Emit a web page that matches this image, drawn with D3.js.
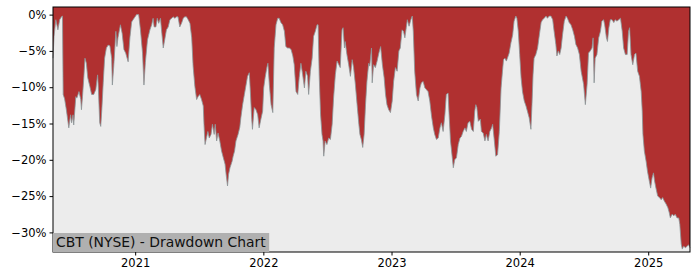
<!DOCTYPE html>
<html>
<head>
  <meta charset="utf-8">
  <title>CBT Drawdown</title>
  <script src="https://cdn.jsdelivr.net/npm/d3@7"></script>
  <style>
    body { margin: 0; background: #fff; }
    svg { font-family: "DejaVu Sans", sans-serif; }
  </style>
</head>
<body>
  <svg width="700" height="280" id="chart"></svg>
  <script>
    // series, day offsets counted from the first trading day
    const title = 'CBT (NYSE) - Drawdown Chart';
    const startDate = '2020-05-12';
    const dayOffsets = [
      0, 3, 8, 14, 19, 24, 27, 29, 33, 38, 45, 50, 53, 57, 59, 65, 68, 74, 79, 81, 84, 88, 91, 95, 99,
      105, 110, 116, 122, 127, 129, 133, 136, 139, 143, 147, 152, 157, 162, 167, 169, 173, 179, 182, 185,
      192, 197, 202, 207, 214, 219, 224, 228, 238, 244, 249, 255, 259, 263, 269, 276, 281, 285, 288, 293,
      297, 301, 306, 310, 314, 318, 323, 328, 333, 338, 342, 347, 352, 356, 361, 366, 371, 375, 380, 385,
      390, 395, 399, 404, 409, 413, 418, 423, 428, 430, 433, 437, 441, 445, 450, 454, 459, 462, 466, 470,
      475, 480, 485, 490, 493, 497, 500, 504, 510, 513, 517, 521, 527, 532, 535, 540, 545, 549, 554, 559,
      562, 566, 568, 573, 578, 583, 587, 592, 597, 600, 604, 609, 612, 616, 621, 626, 630, 635, 640, 644,
      649, 654, 659, 663, 668, 673, 678, 683, 687, 692, 697, 701, 706, 711, 716, 720, 725, 728, 733, 738,
      742, 747, 752, 755, 758, 762, 766, 769, 771, 775, 780, 785, 790, 795, 799, 804, 809, 814, 818, 823,
      826, 830, 832, 837, 842, 847, 852, 856, 861, 866, 871, 874, 878, 882, 886, 890, 894, 899, 902, 907,
      909, 913, 918, 923, 928, 933, 938, 943, 947, 951, 956, 961, 966, 970, 975, 980, 985, 989, 994, 998,
      1002, 1006, 1009, 1014, 1019, 1023, 1026, 1030, 1035, 1040, 1045, 1049, 1054, 1059, 1063, 1068, 1073,
      1078, 1083, 1087, 1092, 1097, 1102, 1106, 1111, 1116, 1120, 1125, 1128, 1132, 1137, 1140, 1144, 1149,
      1154, 1159, 1163, 1168, 1173, 1177, 1182, 1187, 1192, 1197, 1201, 1204, 1207, 1211, 1217, 1220, 1225,
      1230, 1234, 1239, 1244, 1249, 1252, 1256, 1261, 1266, 1271, 1276, 1280, 1283, 1287, 1291, 1294, 1299,
      1304, 1309, 1313, 1318, 1321, 1325, 1329, 1333, 1337, 1342, 1347, 1351, 1356, 1361, 1364, 1367, 1370,
      1375, 1380, 1385, 1390, 1394, 1399, 1404, 1408, 1413, 1418, 1423, 1427, 1432, 1435, 1439, 1443, 1447,
      1451, 1456, 1461, 1465, 1470, 1475, 1480, 1485, 1489, 1494, 1499, 1504, 1511, 1516, 1521, 1525, 1530,
      1535, 1538, 1541, 1544, 1549, 1554, 1559, 1563, 1568, 1571, 1576, 1579, 1583, 1587, 1592, 1597, 1601,
      1606, 1611, 1616, 1621, 1625, 1630, 1635, 1639, 1642, 1646, 1651, 1656, 1660, 1665, 1670, 1675, 1678,
      1680, 1684, 1689, 1693, 1698, 1702, 1706, 1710, 1713, 1717, 1722, 1727, 1732, 1736, 1741, 1746, 1751,
      1755, 1758, 1763, 1768, 1772, 1777, 1782, 1785, 1789, 1792, 1796, 1801, 1806, 1810, 1814
    ];
    const drawdown = [
      -6.0, -3.0, -0.7, -2.1, -0.7, -0.3, -0.2, -11.0, -11.6, -13.1, -15.6, -13.8, -14.9, -13.8, -15.2, -11.3, -11.5, -10.6, -11.7, -13.1, -11.3, -8.5, -6.0, -6.7, -8.7,
      -9.9, -11.0, -11.0, -10.3, -8.3, -9.9, -14.9, -15.4, -13.1, -9.4, -6.0, -4.6, -4.2, -4.3, -6.0, -9.7, -7.1, -2.3, -4.4, -3.2,
      -1.4, -2.6, -4.8, -5.3, -6.5, -3.2, -1.0, -0.7, 0, 0, -2.1, -5.3, -9.7, -6.6, -3.5, -2.1, -1.4, -0.5, -1.7, -1.7,
      -0.5, -1.2, -0.5, -2.6, -4.6, -3.5, -2.1, -1.7, -0.7, -0.5, -0.3, -0.5, -0.3, -0.3, -1.7, -1.2, -0.5, -0.3, -0.3, -0.7,
      -1.2, -3.2, -7.1, -9.9, -11.7, -11.3, -11.0, -11.7, -12.6, -15.1, -17.9, -17.0, -16.1, -17.0, -16.5, -15.1, -16.5, -15.1, -17.4, -16.3,
      -17.4, -18.8, -19.7, -20.6, -22.0, -23.6, -22.0, -21.1, -20.2, -19.5, -18.8, -17.4, -16.5, -15.5, -14.2, -12.4, -11.0, -9.9, -8.5, -8.0,
      -10.6, -14.5, -15.8, -12.8, -13.1, -13.8, -15.6, -14.4, -13.3, -10.1, -8.7, -7.3, -6.7, -9.6, -12.4, -13.5, -4.6, -1.4, -0.5, -0.5,
      -1.1, -1.4, -2.3, -4.4, -4.6, -4.6, -4.8, -5.7, -6.9, -10.6, -11.0, -8.7, -6.7, -8.3, -10.1, -7.8, -8.5, -11.0, -7.8, -6.0,
      -3.0, -2.3, -1.4, -1.4, -8.3, -13.8, -16.5, -17.4, -19.5, -17.4, -17.9, -17.0, -17.2, -15.1, -11.5, -8.3, -6.4, -6.9, -7.3, -2.1,
      -1.8, -4.6, -3.7, -5.5, -6.9, -8.5, -6.2, -7.3, -9.6, -12.4, -15.1, -16.5, -17.2, -18.3, -16.5, -12.4, -9.2, -6.7, -7.1, -4.6,
      -9.4, -6.9, -7.3, -6.4, -5.3, -4.4, -6.9, -8.7, -11.0, -12.4, -13.1, -13.5, -11.9, -9.2, -7.3, -7.8, -5.0, -4.6, -2.1, -2.3,
      -3.2, -1.8, -0.7, -1.6, -0.7, -0.2, -2.3, -7.8, -11.0, -11.9, -10.1, -9.4, -9.2, -10.1, -10.3, -10.6, -11.9,
      -14.0, -15.6, -16.5, -17.2, -17.0, -15.6, -14.9, -16.1, -13.8, -11.0, -10.8, -13.8, -17.4, -19.7, -21.1, -20.0, -19.7,
      -17.9, -17.0, -16.8, -16.1, -15.6, -16.1, -14.9, -14.7, -15.8, -16.1, -13.3, -12.4, -12.8, -14.7, -14.4, -16.1, -16.3,
      -17.4, -16.5, -17.4, -16.1, -15.6, -15.1, -17.0, -19.5, -19.3, -16.1, -10.1, -7.8, -6.2, -6.0, -6.4, -6.0, -5.3,
      -3.9, -2.8, -0.9, -0.2, -0.5, -2.3, -5.5, -8.7, -10.6, -11.9, -12.6, -13.3, -14.2, -15.8, -12.4, -8.3, -6.0,
      -5.5, -4.6, -2.8, -1.1, -0.7, -0.5, -0.2, -0.5, -0.2, -0.2, -0.7, -2.3, -4.1, -5.7, -5.0, -5.5, -4.6,
      -2.8, -0.9, -0.2, -0.5, -1.1, -1.4, -2.1, -3.0, -4.1, -4.6, -5.5, -7.8, -9.6, -12.4, -9.6, -5.3, -5.0,
      -4.6, -3.2, -9.4, -6.0, -5.5, -3.2, -2.3, -0.9, -0.7, -1.4, -3.2, -3.7, -1.8, -0.7, -0.7, -1.1, -0.7,
      -0.9, -0.7, -0.5, -2.3, -4.6, -5.5, -5.5, -2.3, -1.8, -5.5, -6.9, -5.5, -5.3, -7.8, -8.5, -10.6, -13.3,
      -16.5, -18.8, -20.2, -21.6, -22.9, -23.9, -22.5, -21.8, -22.9, -23.9, -25.0, -25.2, -25.5, -25.2, -25.7, -26.1, -26.6,
      -27.3, -28.0, -27.5, -27.7, -27.5, -28.0, -28.0, -28.9, -31.6, -32.3, -31.9, -32.1, -31.9, -31.7, -32.1
    ];
    const yTicks = [0, -5, -10, -15, -20, -25, -30];
    const yRange = [-32.7, 1.05];

    const svg = d3.select('#chart');
    const width = +svg.attr('width');
    const height = +svg.attr('height');
    const margin = { top: 7, right: 10, bottom: 28, left: 53 };
    const innerWidth = width - margin.left - margin.right;
    const innerHeight = height - margin.top - margin.bottom;

    const t0 = d3.utcParse('%Y-%m-%d')(startDate);
    const data = dayOffsets.map((n, i) => ({ date: d3.utcDay.offset(t0, n), dd: drawdown[i] }));

    const xScale = d3.scaleUtc()
      .domain(d3.extent(data, d => d.date))
      .range([0, innerWidth]);
    const yScale = d3.scaleLinear()
      .domain(yRange)
      .range([innerHeight, 0]);

    const g = svg.append('g')
      .attr('transform', `translate(${margin.left}, ${margin.top})`);

    // plot background
    g.append('rect')
      .attr('width', innerWidth)
      .attr('height', innerHeight)
      .attr('fill', '#ececec');

    // red area hangs from the top of the plot down to the drawdown curve
    const area = d3.area()
      .x(d => xScale(d.date))
      .y0(yScale(yRange[1]))
      .y1(d => yScale(d.dd));
    g.append('path')
      .datum(data)
      .attr('d', area)
      .attr('fill', '#b03030');

    const line = d3.line()
      .x(d => xScale(d.date))
      .y(d => yScale(d.dd));
    g.append('path')
      .datum(data)
      .attr('d', line)
      .attr('fill', 'none')
      .attr('stroke', '#8a9698')
      .attr('stroke-width', 0.8);

    // axes
    const fmtPct = d => (d === 0 ? '0' : d3.format('d')(d)) + '%';
    const yAxis = d3.axisLeft(yScale).tickValues(yTicks).tickFormat(fmtPct).tickSize(3.5).tickPadding(3);
    const xAxis = d3.axisBottom(xScale).ticks(d3.utcYear.every(1)).tickFormat(d3.utcFormat('%Y')).tickSize(3.5).tickPadding(3);

    const yg = g.append('g').call(yAxis);
    const xg = g.append('g').attr('transform', `translate(0, ${innerHeight})`).call(xAxis);
    [yg, xg].forEach(a => {
      a.attr('font-size', 11.5).attr('font-family', 'DejaVu Sans');
      a.select('.domain').remove();
      a.selectAll('text').attr('fill', '#000');
      a.selectAll('line').attr('stroke', '#000');
    });

    // frame
    g.append('rect')
      .attr('width', innerWidth)
      .attr('height', innerHeight)
      .attr('fill', 'none')
      .attr('stroke', '#000')
      .attr('stroke-width', 1);

    // title label, bottom-left inside the plot
    const label = g.append('g');
    const labelText = label.append('text')
      .attr('x', 3)
      .attr('y', innerHeight - 5)
      .attr('font-size', 13.9)
      .attr('fill', '#111')
      .text(title);
    const bb = labelText.node().getBBox();
    label.insert('rect', 'text')
      .attr('x', 0)
      .attr('y', bb.y - 1)
      .attr('width', bb.width + 6)
      .attr('height', innerHeight - bb.y + 1)
      .attr('fill', '#b0b0b0');
  </script>
</body>
</html>
